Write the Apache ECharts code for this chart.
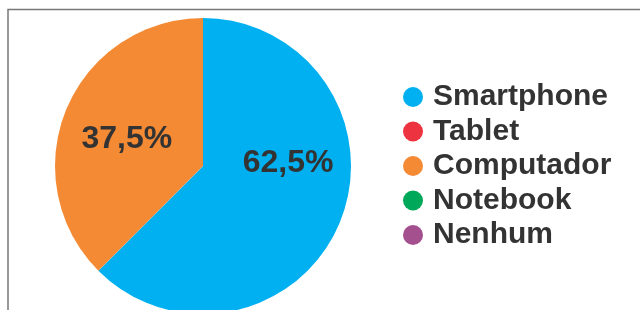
<!DOCTYPE html>
<html>
<head>
<meta charset="utf-8">
<script src="https://cdn.jsdelivr.net/npm/echarts@6/dist/echarts.min.js"></script>
<style>
  html, body { margin: 0; padding: 0; background: #fff; }
  #chart { width: 640px; height: 310px; }
</style>
</head>
<body>
<div id="chart"></div>
<script>
// dados do gráfico
var categorias = ['Smartphone', 'Tablet', 'Computador', 'Notebook', 'Nenhum']
var valores = [62.5, 0, 37.5, 0, 0]
var cores = ['#00B0F0', '#EE3340', '#F58A35', '#00A859', '#A4508E']

// deslocamento dos rótulos dentro das fatias
var deslocamentos = [[14, -32], [0, 0], [-5, 3], [0, 0], [0, 0]]

var chart = echarts.init(document.getElementById('chart'))
chart.setOption({
  animation: false,
  color: cores,
  graphic: [
    {
      type: 'rect',
      shape: { x: 8, y: 9.5, width: 700, height: 400 },
      style: { fill: 'none', stroke: '#777', lineWidth: 1.5 },
      silent: true
    }
  ],
  legend: {
    orient: 'vertical',
    left: 398,
    top: 77,
    icon: 'circle',
    itemWidth: 20,
    itemHeight: 20,
    itemGap: 4.5,
    data: categorias,
    textStyle: {
      fontFamily: 'Liberation Sans, Arial, sans-serif',
      fontWeight: 'bold',
      fontSize: 30,
      lineHeight: 30,
      color: '#333',
      padding: [0, 0, 0, 5]
    }
  },
  series: [
    {
      type: 'pie',
      center: [203, 166],
      radius: 148,
      startAngle: 90,
      clockwise: true,
      itemStyle: { borderWidth: 0 },
      emphasis: { disabled: true },
      label: {
        position: 'inside',
        fontFamily: 'Liberation Sans, Arial, sans-serif',
        fontWeight: 'bold',
        fontSize: 32,
        color: '#333',
        formatter: function (p) {
          if (!p.value) return ''
          return p.percent.toFixed(1).replace('.', ',') + '%'
        }
      },
      labelLine: { show: false },
      data: categorias.map(function (nome, i) {
        return {
          name: nome,
          value: valores[i],
          label: { offset: deslocamentos[i] }
        }
      })
    }
  ]
})
</script>
</body>
</html>
